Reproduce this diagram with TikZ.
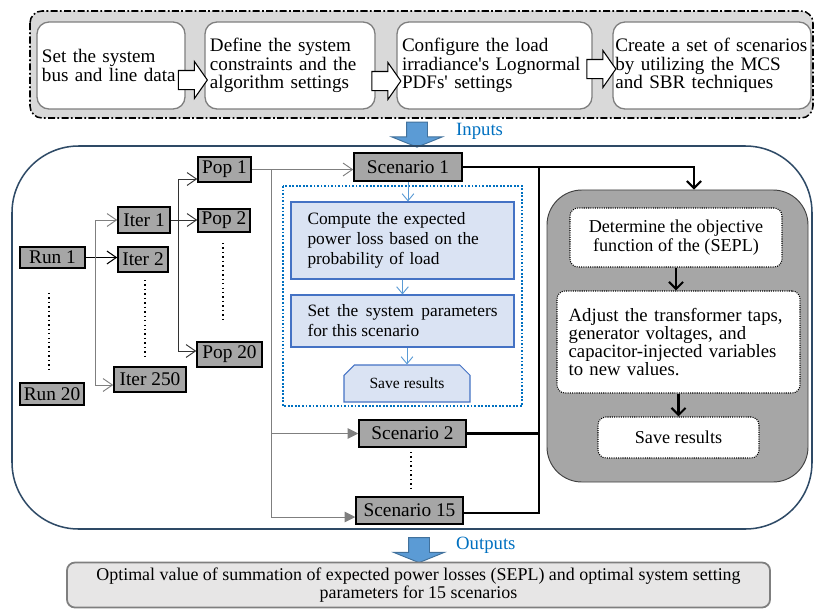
\documentclass[tikz,border=0pt]{standalone}
\usepackage{fontspec}
\setmainfont{Liberation Serif}
\usepackage{tikz}
\usetikzlibrary{arrows.meta,shapes.arrows,shapes.misc,calc}
\definecolor{boxgray}{HTML}{A6A6A6}
\definecolor{topgray}{HTML}{D9D9D9}
\definecolor{edgegray}{HTML}{7F7F7F}
\definecolor{frameblue}{HTML}{2E4A66}
\definecolor{txtblue}{HTML}{0070C0}
\definecolor{fillblue}{HTML}{DAE3F3}
\definecolor{lineblue}{HTML}{4472C4}
\definecolor{arrblue}{HTML}{5B9BD5}
\definecolor{arredge}{HTML}{41719C}
\definecolor{outgray}{HTML}{E7E6E6}
\newcommand\ftop{\fontsize{16.3}{15.6}\selectfont}
\newcommand\fgry{\fontsize{16.5}{18}\selectfont}
\newcommand\fblu{\fontsize{14.8}{17}\selectfont}
\newcommand\fsav{\fontsize{13.3}{15}\selectfont}
\newcommand\fcam{\fontsize{15.5}{15.6}\selectfont}
\newcommand\fio{\fontsize{16}{18}\selectfont}
\newcommand\fbot{\fontsize{15.3}{15.6}\selectfont}

\begin{document}
\begin{tikzpicture}[x=0.03cm,y=-0.03cm,
  topbox/.style={draw=edgegray,line width=1.1pt,fill=white,rounded corners=0.36cm,minimum height=2.61cm,inner xsep=0.15cm,align=left,font=\ftop},
  hollow/.style={single arrow,draw=black,line width=0.9pt,fill=white,minimum height=0.87cm,inner xsep=0pt,inner ysep=0.27cm,single arrow head extend=0.27cm,single arrow tip angle=110},
  bluedown/.style={single arrow,rotate=-90,draw=arredge,line width=0.8pt,fill=arrblue,minimum height=0.75cm,inner xsep=0pt,inner ysep=0.3cm,single arrow head extend=0.45cm,single arrow tip angle=136},
  gnode/.style={draw,line width=1.3pt,fill=boxgray,font=\fgry,inner sep=2pt},
  bluebox/.style={draw=lineblue,line width=0.9pt,fill=fillblue,font=\fblu,text width=5.7cm,inner xsep=0.495cm},
  savebox/.style={chamfered rectangle,chamfered rectangle corners={north west,north east},chamfered rectangle xsep=0.2cm,draw=lineblue,line width=0.9pt,fill=fillblue,font=\fsav,minimum width=3.78cm,minimum height=1.11cm},
  procbox/.style={draw=black!75,line width=0.8pt,fill=boxgray,rounded corners=1.05cm},
  dotbox/.style={draw,densely dotted,line width=0.9pt,fill=white,rounded corners=0.24cm,font=\fcam},
  gline/.style={draw=edgegray,line width=0.8pt},
  dline/.style={draw=black!80,line width=0.8pt},
  vtip/.style={-{Straight Barb[length=8pt,width=11pt]}},
  ttip/.style={-{Triangle[length=9pt,width=9pt]}},
  thk/.style={line width=1.8pt},
  thktip/.style={-{Straight Barb[length=6pt,width=12pt]}},
  bline/.style={draw=arrblue,line width=0.8pt,-{Straight Barb[length=6pt,width=10pt]}},
  vdots/.style={line width=1.3pt,dash pattern=on 1.2pt off 2.6pt}]
\useasboundingbox (0,0) rectangle (814,610);
%\draw[help lines,step=50] (0,0) grid (814,610);

% input stage
\draw[fill=topgray,line width=1.3pt,rounded corners=0.36cm,dash pattern=on 6pt off 2pt on 1.5pt off 2pt] (30,11) rectangle (813,118);
\node[topbox,text width=4.14cm] (b1) at (111,65.5) {Set the system\\bus and line data};
\node[topbox,text width=4.8cm] (b2) at (290,65.5) {Define the system\\constraints and the\\algorithm settings};
\node[topbox,text width=5.55cm] (b3) at (494.5,65.5) {Configure the load\\irradiance\textquotesingle s Lognormal\\PDFs\textquotesingle\ settings};
\node[topbox,text width=5.8cm,inner xsep=0.07cm] (b4) at (712,65.5) {Create a set of scenarios\\by utilizing the MCS\\and SBR techniques};
\node[hollow] (h1) at (189.5,80) {};
\node[hollow] (h2) at (383,81) {};
\node[hollow] (h3) at (598,69) {};

\node[bluedown] (inarr) at (417,132.5) {};
\node[font=\fio,text=txtblue,anchor=west] (inp) at (452,131) {Inputs};

% main loop
\draw[draw=frameblue,line width=1.3pt,rounded corners=2cm] (12,146) rectangle (812,529);

\node[gnode,minimum width=1.95cm,minimum height=0.63cm] (run1) at (52.5,257.5) {Run 1};
\node[gnode,minimum width=1.92cm,minimum height=0.66cm] (run20) at (52,394) {Run 20};
\node[gnode,minimum width=1.56cm,minimum height=0.78cm] (iter1) at (144,220) {Iter 1};
\node[gnode,minimum width=1.5cm,minimum height=0.75cm] (iter2) at (143,259.5) {Iter 2};
\node[gnode,minimum width=2.16cm,minimum height=0.75cm] (iter250) at (150,379.5) {Iter 250};
\node[gnode,minimum width=1.59cm,minimum height=0.75cm] (pop1) at (224.5,169.5) {Pop 1};
\node[gnode,minimum width=1.56cm,minimum height=0.69cm] (pop2) at (224,220.5) {Pop 2};
\node[gnode,minimum width=1.95cm,minimum height=0.75cm] (pop20) at (229.5,354.5) {Pop 20};
\node[gnode,minimum width=3.24cm,minimum height=0.84cm] (sc1) at (408,167) {Scenario 1};
\node[gnode,minimum width=3.21cm,minimum height=0.81cm] (sc2) at (412.5,433.5) {Scenario 2};
\node[gnode,minimum width=3.21cm,minimum height=0.81cm] (sc15) at (409.5,510.5) {Scenario 15};

\draw[vdots] (49,293) -- (49,370);
\draw[vdots] (145,280) -- (145,358);
\draw[vdots] (223,243) -- (223,322);
\draw[vdots] (411,452) -- (411,492);

% runs to iterations
\coordinate (i1in) at (95,220);
\coordinate (i250in) at (95,385);
\draw[line width=0.9pt,vtip] (run1.east) -- (run1.east -| iter2.west);
\draw[gline] (i1in) -- (i250in);
\draw[gline,vtip] (i1in) -- (iter1.west);
\draw[gline,vtip] (i250in) -- (i250in -| iter250.west);

% iterations to populations
\coordinate (pj) at (178,220);
\coordinate (p1in) at (178,179);
\coordinate (p20in) at (178,351);
\draw[dline] (iter1.east) -- (pj);
\draw[dline] (p1in) -- (p20in);
\draw[dline,vtip] (p1in) -- (p1in -| pop1.west);
\draw[dline,vtip] (pj) -- (pj -| pop2.west);
\draw[dline,vtip] (p20in) -- (p20in -| pop20.west);

% populations to scenarios
\coordinate (sj) at (271,168);
\coordinate (sc15in) at (271,517);
\draw[gline,vtip] (pop1.east) -- (pop1.east -| sc1.west);
\draw[gline] (pop1.east -| sj) -- (sc15in);
\draw[gline,ttip] (sc2.west -| sj) -- (sc2.west);
\draw[gline,ttip] (sc15in) -- (sc15in -| sc15.west);

% one scenario
\draw[draw=txtblue,line width=1.5pt,dash pattern=on 1.5pt off 1.5pt] (283,186) rectangle (522,406);
\node[bluebox,align=left,minimum height=2.31cm] (comp) at (402.5,240.5) {Compute the expected\\power loss based on the\\probability of load};
\node[bluebox,align=justify,minimum height=1.56cm] (setp) at (402.5,321) {Set the system parameters for this scenario};
\node[savebox] (save1) at (407,383.5) {Save results};
\draw[bline] (sc1.south) -- (sc1.south |- comp.north);
\draw[bline] (comp.south) -- (setp.north);
\draw[bline] (setp.south -| save1.north) -- (save1.north);

% evaluation
\node[procbox,minimum width=7.83cm,minimum height=8.76cm] (evalbox) at (677.5,336) {};
\node[dotbox,minimum width=6.36cm,minimum height=1.77cm,align=center] (det) at (676,237.5) {Determine the objective\\function of the (SEPL)};
\node[dotbox,text width=6.59cm,inner xsep=0.35cm,minimum height=3.06cm,align=left,font=\fontsize{16}{15.6}\selectfont] (adj) at (678.5,342) {Adjust the transformer taps,\\generator voltages, and\\capacitor-injected variables\\to new values.};
\node[dotbox,minimum width=4.83cm,minimum height=1.23cm] (save2) at (678.5,437.5) {Save results};
\draw[thk,thktip] (det.south) -- (det.south |- adj.north);
\draw[thk,thktip] (adj.south) -- (adj.south |- save2.north);

\coordinate (jn) at (694,167);
\coordinate (sc15o) at (539,513);
\draw[thk,thktip] (sc1.east) -- (jn) -- (jn |- evalbox.north);
\draw[thk] (sc1.east -| sc15o) -- (sc15o) -- (sc15o -| sc15.east);
\draw[thk] (sc2.east) -- (sc2.east -| sc15o);

% output stage
\node[bluedown] (outarr) at (419,548) {};
\node[font=\fio,text=txtblue,anchor=west] (outp) at (452,545) {Outputs};
\node[draw=edgegray,line width=1.5pt,fill=outgray,rounded corners=0.24cm,minimum width=21.09cm,minimum height=1.35cm,align=center,font=\fbot] (res) at (418.5,585) {Optimal value of summation of expected power losses (SEPL) and optimal system setting\\parameters for 15 scenarios};
\end{tikzpicture}
\end{document}
